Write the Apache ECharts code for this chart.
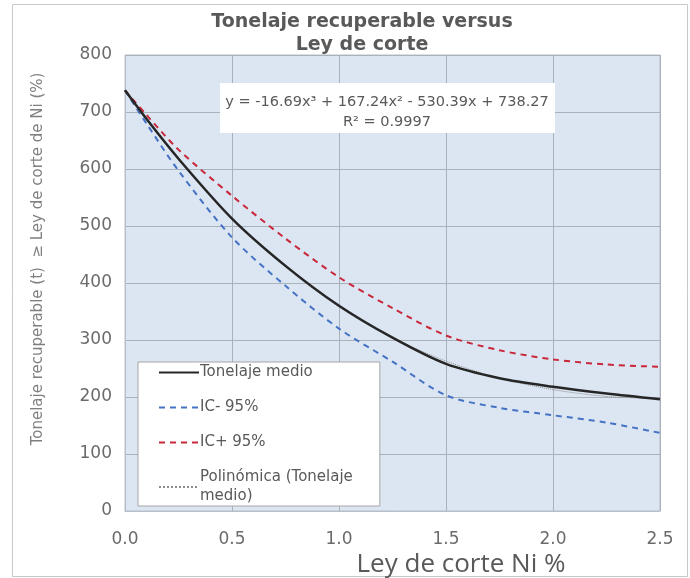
<!DOCTYPE html>
<html>
<head>
<meta charset="utf-8">
<script src="https://cdn.jsdelivr.net/npm/echarts@6/dist/echarts.min.js"></script>
<style>
html,body{margin:0;padding:0;background:#fff;}
#c{width:690px;height:578px;}
</style>
</head>
<body>
<div id="c"></div>
<script>
var cutoff = [0, 0.1, 0.25, 0.5, 0.75, 1.0, 1.25, 1.5, 1.75, 2.0, 2.25, 2.5];
var tonelajeMedio = [738, 688, 618, 513, 430, 360, 304, 258, 233, 218, 206, 196];
var icMinus = [738, 680, 597, 480, 395, 320, 262, 203, 181, 168, 155, 137];
var icPlus = [738, 695, 634, 553, 478, 410, 356, 308, 282, 266, 257, 253];
var polinomica = [738, 687, 616, 513, 428, 358, 304, 263, 233, 213, 201, 197];
var xTicks = [0, 0.5, 1.0, 1.5, 2.0, 2.5];
var yTicks = [0, 100, 200, 300, 400, 500, 600, 700, 800];

function pairs(ys){ return cutoff.map(function(x,i){ return [x, ys[i]]; }); }

var chart = echarts.init(document.getElementById('c'), null, {renderer:'canvas'});
var gray = '#595959';
chart.setOption({
  animation:false,
  backgroundColor:'#ffffff',
  grid:{left:125, right:30, top:55, bottom:67, show:true, backgroundColor:'#dce6f2', borderColor:'#b8bfc8', borderWidth:1},
  xAxis:{
    type:'value', min:xTicks[0], max:xTicks[xTicks.length-1], interval:0.5,
    axisLine:{show:true, lineStyle:{color:'#b8bfc8'}},
    axisTick:{show:false},
    axisLabel:{margin:20, color:'#6b6b6b', fontFamily:'DejaVu Sans', fontSize:17, formatter:function(v){return v.toFixed(1);}},
    splitLine:{show:true, lineStyle:{color:'#a9b1bb', width:1}}
  },
  yAxis:{
    type:'value', min:yTicks[0], max:yTicks[yTicks.length-1], interval:100,
    axisLine:{show:true, lineStyle:{color:'#b8bfc8'}},
    axisTick:{show:false},
    axisLabel:{margin:13, color:'#6b6b6b', fontFamily:'DejaVu Sans', fontSize:17},
    splitLine:{show:true, lineStyle:{color:'#a9b1bb', width:1}}
  },
  legend:{
    orient:'vertical', left:138, top:362,
    backgroundColor:'#ffffff', borderColor:'#a6a6a6', borderWidth:1,
    padding:[1,27,0,20], itemWidth:40, itemHeight:12, itemGap:16,
    itemStyle:{color:'rgba(0,0,0,0)', borderWidth:0, opacity:0},
    textStyle:{color:gray, fontFamily:'DejaVu Sans', fontSize:15, padding:[0,0,0,-4], lineHeight:19},
    formatter:function(n){ return n === 'Polinómica (Tonelaje medio)' ? 'Polinómica (Tonelaje\nmedio)' : n; },
    data:['Tonelaje medio','IC- 95%','IC+ 95%','Polinómica (Tonelaje medio)']
  },
  series:[
    {name:'Polinómica (Tonelaje medio)', type:'line', data:pairs(polinomica), smooth:0.3, symbol:'none', z:1,
     lineStyle:{color:'#8c8c8c', width:1, type:'dotted'}, itemStyle:{color:'#8c8c8c'}},
    {name:'Tonelaje medio', type:'line', data:pairs(tonelajeMedio), smooth:0.3, symbol:'none', z:3,
     lineStyle:{color:'#262626', width:2.5}, itemStyle:{color:'#262626'}},
    {name:'IC- 95%', type:'line', data:pairs(icMinus), smooth:0.3, symbol:'none', z:2,
     lineStyle:{color:'#4472c4', width:2, type:[6,5]}, itemStyle:{color:'#4472c4'}},
    {name:'IC+ 95%', type:'line', data:pairs(icPlus), smooth:0.3, symbol:'none', z:2,
     lineStyle:{color:'#c8283a', width:2, type:[6,5]}, itemStyle:{color:'#c8283a'}}
  ],
  graphic:[
    {type:'rect', shape:{x:12.5, y:4.5, width:675, height:572}, style:{fill:'none', stroke:'#c8c8c8', lineWidth:1}, silent:true, z:-10},
    {type:'text', x:362, y:22, style:{text:'Tonelaje recuperable versus', fill:gray, font:'bold 19px "DejaVu Sans"', textAlign:'center', textVerticalAlign:'middle'}},
    {type:'text', x:362, y:45, style:{text:'Ley de corte', fill:gray, font:'bold 19px "DejaVu Sans"', textAlign:'center', textVerticalAlign:'middle'}},
    {type:'rect', shape:{x:220, y:83, width:335, height:50}, style:{fill:'#ffffff'}, z:5},
    {type:'text', x:387, y:102, z:6, style:{text:'y = -16.69x³ + 167.24x² - 530.39x + 738.27', fill:gray, font:'14.5px "DejaVu Sans"', textAlign:'center', textVerticalAlign:'middle'}},
    {type:'text', x:387, y:122, z:6, style:{text:'R² = 0.9997', fill:gray, font:'14.5px "DejaVu Sans"', textAlign:'center', textVerticalAlign:'middle'}},
    {type:'text', x:38, y:259, rotation:Math.PI/2, style:{text:'Tonelaje recuperable (t)  ≥ Ley de corte de Ni (%)', fill:'#808080', font:'15px "DejaVu Sans"', textAlign:'center', textVerticalAlign:'middle'}},
    {type:'text', x:461, y:565, style:{text:'Ley de corte Ni %', fill:gray, font:'26px "Open Sans"', textAlign:'center', textVerticalAlign:'middle'}}
  ]
});
</script>
</body>
</html>
